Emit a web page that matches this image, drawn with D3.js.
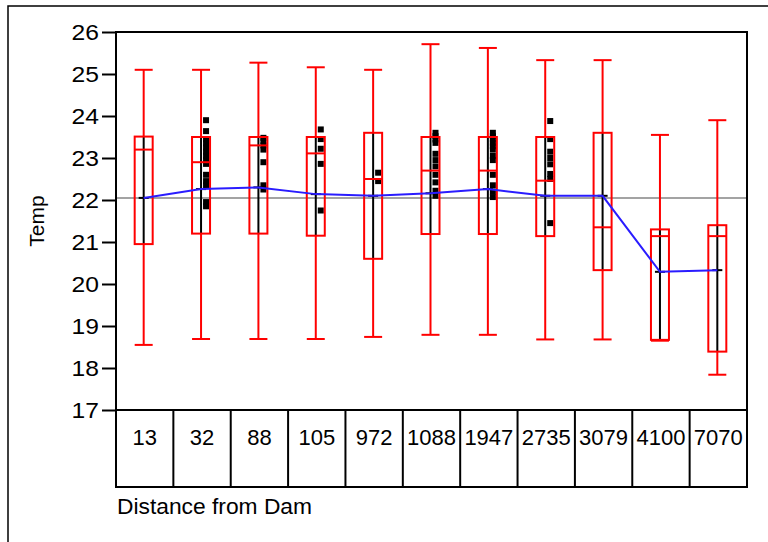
<!DOCTYPE html>
<html>
<head>
<meta charset="utf-8">
<script src="https://cdn.jsdelivr.net/npm/d3@7"></script>
<style>
  html, body { margin: 0; padding: 0; background: #fff; }
  svg { display: block; font-family: "Liberation Sans", Arial, Helvetica, sans-serif; }
</style>
</head>
<body>
<svg id="chart" width="768" height="542"></svg>
<script>
// Temperature by distance from dam: box plots, group means and raw observations
const categories = ["13", "32", "88", "105", "972", "1088", "1947", "2735", "3079", "4100", "7070"];
const whiskerHigh = [25.10, 25.10, 25.27, 25.16, 25.10, 25.71, 25.62, 25.33, 25.33, 23.55, 23.90];
const q3 = [23.51, 23.50, 23.50, 23.50, 23.60, 23.50, 23.50, 23.50, 23.60, 21.30, 21.40];
const medians = [23.20, 22.90, 23.30, 23.11, 22.50, 22.70, 22.70, 22.46, 21.35, 21.14, 21.14];
const q1 = [20.95, 21.20, 21.20, 21.15, 20.60, 21.19, 21.19, 21.14, 20.33, 18.67, 18.39];
const whiskerLow = [18.55, 18.69, 18.69, 18.69, 18.74, 18.79, 18.79, 18.68, 18.68, 18.65, 17.84];
const means = [22.05, 22.26, 22.30, 22.14, 22.10, 22.16, 22.26, 22.10, 22.10, 20.29, 20.33];
const grandMean = 22.05;
const yTicks = [17, 18, 19, 20, 21, 22, 23, 24, 25, 26];

// individual observations shown beside some boxes
const obs32 = [23.90, 23.64, 23.45, 23.35, 23.25, 23.15, 23.05, 22.95, 22.86, 22.60, 22.45, 22.35, 21.95, 21.85];
const obs88 = [23.48, 23.40, 23.30, 23.20, 22.90, 22.35, 22.25];
const obs105 = [23.68, 23.45, 23.22, 22.86, 21.75];
const obs972 = [22.65, 22.45];
const obs1088 = [23.60, 23.52, 23.44, 23.36, 23.10, 22.95, 22.80, 22.60, 22.42, 22.22, 22.10];
const obs1947 = [23.60, 23.52, 23.44, 23.36, 23.28, 23.20, 23.05, 22.95, 22.60, 22.35, 22.20, 22.07];
const obs2735 = [23.88, 23.45, 23.15, 23.00, 22.85, 22.62, 22.50, 21.45];
const observations = [
  ["32", obs32], ["88", obs88], ["105", obs105], ["972", obs972],
  ["1088", obs1088], ["1947", obs1947], ["2735", obs2735]
];

const svg = d3.select("#chart");
const plotLeft = 116, plotRight = 747, plotTop = 32, plotBottom = 410, tableBottom = 487;
const red = "#ff0000", blue = "#2a1cff", grey = "#a3a3a3";

const x = d3.scaleBand().domain(categories).range([plotLeft, plotRight]).padding(0);
const y = d3.scaleLinear().domain([17, 26]).range([plotBottom, plotTop]);
const cx = c => x(c) + x.bandwidth() / 2 - 1;
const boxW = 18;

// outer frame of the figure
svg.append("rect").attr("x", 8).attr("y", 6).attr("width", 800).attr("height", 600)
  .attr("fill", "none").attr("stroke", "#000").attr("stroke-width", 1.5);

// y axis
const yAxis = svg.append("g").attr("transform", `translate(${plotLeft},0)`)
  .call(d3.axisLeft(y).tickValues(yTicks).tickSize(14).tickPadding(3).tickFormat(d3.format("d")));
yAxis.select(".domain").remove();
yAxis.selectAll(".tick line").attr("stroke", "#000").attr("stroke-width", 2);
yAxis.selectAll(".tick text").attr("font-size", 22).attr("fill", "#000")
  .attr("font-family", "'Liberation Sans', Arial, sans-serif")
  .attr("transform", "scale(1.12,1)").attr("x", -17 / 1.12);

// grand mean reference line
svg.append("line").attr("x1", plotLeft).attr("x2", plotRight)
  .attr("y1", y(grandMean)).attr("y2", y(grandMean))
  .attr("stroke", grey).attr("stroke-width", 2);

// whiskers
const g = svg.append("g");
categories.forEach((c, i) => {
  const xc = cx(c);
  g.append("line").attr("x1", xc).attr("x2", xc).attr("y1", y(whiskerHigh[i])).attr("y2", y(q3[i]))
    .attr("stroke", red).attr("stroke-width", 2);
  g.append("line").attr("x1", xc).attr("x2", xc).attr("y1", y(q1[i])).attr("y2", y(whiskerLow[i]))
    .attr("stroke", red).attr("stroke-width", 2);
  g.append("line").attr("x1", xc - boxW / 2).attr("x2", xc + boxW / 2)
    .attr("y1", y(whiskerHigh[i])).attr("y2", y(whiskerHigh[i])).attr("stroke", red).attr("stroke-width", 2);
  g.append("line").attr("x1", xc - boxW / 2).attr("x2", xc + boxW / 2)
    .attr("y1", y(whiskerLow[i])).attr("y2", y(whiskerLow[i])).attr("stroke", red).attr("stroke-width", 2);
  // dark spine through the box
  g.append("line").attr("x1", xc).attr("x2", xc).attr("y1", y(q3[i])).attr("y2", y(q1[i]))
    .attr("stroke", "#000").attr("stroke-width", 2);
});

// observations
observations.forEach(([c, vals]) => {
  g.selectAll(null).data(vals).enter().append("rect")
    .attr("x", cx(c) + 5 - 3).attr("y", d => y(d) - 3)
    .attr("width", 6).attr("height", 6).attr("fill", "#000");
});

// boxes and medians
categories.forEach((c, i) => {
  const xc = cx(c);
  g.append("rect").attr("x", xc - boxW / 2).attr("y", y(q3[i]))
    .attr("width", boxW).attr("height", y(q1[i]) - y(q3[i]))
    .attr("fill", "none").attr("stroke", red).attr("stroke-width", 2);
  g.append("line").attr("x1", xc - boxW / 2).attr("x2", xc + boxW / 2)
    .attr("y1", y(medians[i])).attr("y2", y(medians[i])).attr("stroke", red).attr("stroke-width", 2);
  // mean tick
  g.append("line").attr("x1", xc - 5).attr("x2", xc + 5)
    .attr("y1", y(means[i])).attr("y2", y(means[i])).attr("stroke", "#000").attr("stroke-width", 2);
});

// line through group means
const meanLine = d3.line().x((d, i) => cx(categories[i])).y(d => y(d));
svg.append("path").datum(means).attr("d", meanLine)
  .attr("fill", "none").attr("stroke", blue).attr("stroke-width", 2);

// plot frame
svg.append("path")
  .attr("d", `M${plotLeft},${plotBottom}V${plotTop}H${plotRight}V${plotBottom}`)
  .attr("fill", "none").attr("stroke", "#000").attr("stroke-width", 2);

// category table beneath the plot
const table = svg.append("g");
table.append("rect").attr("x", plotLeft).attr("y", plotBottom)
  .attr("width", plotRight - plotLeft).attr("height", tableBottom - plotBottom)
  .attr("fill", "none").attr("stroke", "#000").attr("stroke-width", 2);
categories.slice(1).forEach(c => {
  table.append("line").attr("x1", x(c)).attr("x2", x(c)).attr("y1", plotBottom).attr("y2", tableBottom)
    .attr("stroke", "#000").attr("stroke-width", 2);
});
table.selectAll("text.cat").data(categories).enter().append("text")
  .attr("class", "cat")
  .attr("x", d => x(d) + x.bandwidth() / 2).attr("y", 445)
  .attr("text-anchor", "middle").attr("font-size", 22).attr("fill", "#000")
  .text(d => d);

// axis titles
svg.append("text").attr("x", 117).attr("y", 514).attr("font-size", 22).attr("fill", "#000")
  .attr("textLength", 195).attr("lengthAdjust", "spacingAndGlyphs")
  .text("Distance from Dam");
svg.append("text").attr("transform", `translate(44,${(plotTop + plotBottom) / 2}) rotate(-90)`)
  .attr("text-anchor", "middle").attr("font-size", 21).attr("fill", "#000")
  .text("Temp");
</script>
</body>
</html>
